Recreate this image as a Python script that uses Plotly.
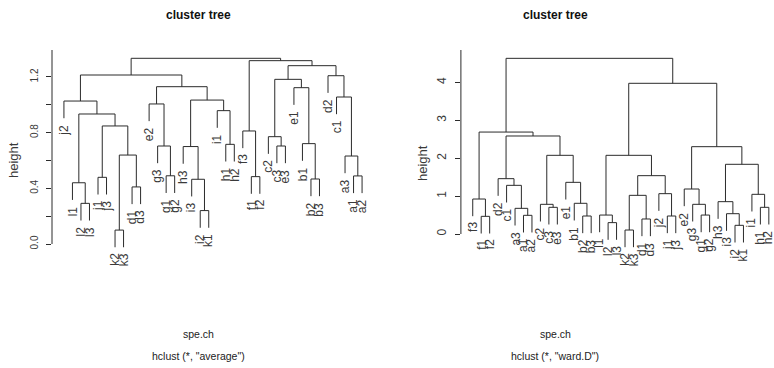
import plotly.graph_objects as go

W, H = 774, 368

# Leaf order and merge steps (R-style: a leaf label or the 1-based row of an earlier merge)
avg_order = ["j2", "l1", "l2", "l3", "j1", "j3", "k2", "k3", "d1", "d3",
             "e2", "g3", "g1", "g2", "h3", "i3", "i2", "k1", "i1", "h1", "h2",
             "f3", "f1", "f2", "c2", "c3", "e3", "e1", "b1", "b2", "b3",
             "d2", "c1", "a3", "a1", "a2"]
avg_merge = [("k2", "k3"), ("i2", "k1"), ("l2", "l3"), ("d1", "d3"), ("l1", 3),
             ("i3", 2), ("b2", "b3"), ("j1", "j3"), ("f1", "f2"), ("a1", "a2"),
             ("g1", "g2"), ("a3", 10), (1, 4), ("h3", 6), ("c3", "e3"),
             ("g3", 11), ("h1", "h2"), ("b1", 7), ("c2", 15), ("f3", 9),
             (8, 13), (5, 21), ("i1", 17), ("e2", 16), ("j2", 22),
             (14, 23), ("c1", 12), ("e1", 18), (24, 26), (19, 28),
             ("d2", 27), (25, 29), (30, 31), (20, 33), (32, 34)]
avg_height = [0.100, 0.240, 0.292, 0.410, 0.440, 0.465, 0.467, 0.479, 0.484, 0.489,
              0.490, 0.632, 0.639, 0.700, 0.704, 0.704, 0.716, 0.721, 0.771, 0.812,
              0.848, 0.934, 0.958, 1.006, 1.027, 1.034, 1.056, 1.123, 1.130, 1.183,
              1.209, 1.214, 1.281, 1.317, 1.334]

ward_order = ["f3", "f1", "f2", "d2", "c1", "a3", "a1", "a2", "c2", "c3", "e3",
              "e1", "b1", "b2", "b3", "l1", "l2", "l3", "k2", "k3", "d1", "d3",
              "j2", "j1", "j3", "e2", "g3", "g1", "g2", "h3", "i3", "i2", "k1",
              "i1", "h1", "h2"]
ward_merge = [("k2", "k3"), ("i2", "k1"), ("l2", "l3"), ("d1", "d3"), ("f1", "f2"),
              ("b2", "b3"), ("j1", "j3"), ("a1", "a2"), ("l1", 3), ("g1", "g2"),
              ("i3", 2), ("a3", 8), ("c3", "e3"), ("h1", "h2"), ("c2", 13),
              ("g3", 10), ("b1", 6), ("h3", 11), ("f3", 5), (1, 4),
              ("i1", 14), ("j2", 7), ("e2", 16), ("c1", 12), ("e1", 17),
              ("d2", 24), (20, 22), (18, 21), (9, 27), (15, 25),
              (23, 28), (26, 30), (19, 32), (29, 31), (33, 34)]
ward_height = [0.105, 0.229, 0.300, 0.396, 0.466, 0.475, 0.475, 0.493, 0.500, 0.500,
               0.536, 0.677, 0.704, 0.704, 0.783, 0.783, 0.810, 0.853, 0.923, 1.020,
               1.047, 1.064, 1.187, 1.284, 1.363, 1.460, 1.539, 1.839, 2.076, 2.076,
               2.304, 2.586, 2.690, 3.976, 4.635]

avg_ticks = [0.0, 0.2, 0.4, 0.6, 0.8, 1.0, 1.2]
avg_ticktext = ["0.0", "", "0.4", "", "0.8", "", "1.2"]
ward_ticks = [0, 1, 2, 3, 4]
ward_ticktext = ["0", "1", "2", "3", "4"]

title_text = "cluster tree"
xlab_text = "spe.ch"
avg_sub = 'hclust (*, "average")'
ward_sub = 'hclust (*, "ward.D")'
ylab_text = "height"

LINE = "#2b2b2b"
TEXT = "#3a3a3a"
FONT = "Liberation Sans, Arial, sans-serif"


def dendrogram(order, merge, height):
    """Elbow paths for every merge plus the end height of each hanging leaf."""
    pos = {lab: i for i, lab in enumerate(order)}
    hang = 0.1 * (max(height) - min(height))
    node_x, node_y = [], []
    xs, ys = [], []
    leaf_end = {}
    for (a, b), h in zip(merge, height):
        pts = []
        for c in (a, b):
            if isinstance(c, str):
                cx, cy = pos[c], h - hang
                leaf_end[c] = cy
            else:
                cx, cy = node_x[c - 1], node_y[c - 1]
            pts.append((cx, cy))
        (xa, ya), (xb, yb) = pts
        xs += [xa, xa, xb, xb, None]
        ys += [ya, h, h, yb, None]
        node_x.append((xa + xb) / 2)
        node_y.append(h)
    return xs, ys, leaf_end


def px_x(p):
    return p / W


def px_y(p):
    return 1 - p / H


panels = [
    dict(order=avg_order, merge=avg_merge, height=avg_height,
         xdom=[px_x(52), px_x(374)], xrange=[-1.4, 36.4],
         yrange=[-26 / 139.2, 194 / 139.2],
         ticks=avg_ticks, ticktext=avg_ticktext, tickfont=10,
         axis_px=52, ylab_px=(14, 160), title_cx=198, sub=avg_sub),
    dict(order=ward_order, merge=ward_merge, height=ward_height,
         xdom=[px_x(460.9), 1.0], xrange=[-1.4, 35.61],
         yrange=[-36 / 37.9, 184 / 37.9],
         ticks=ward_ticks, ticktext=ward_ticktext, tickfont=12,
         axis_px=460.9, ylab_px=(422, 163), title_cx=555, sub=ward_sub),
]

ydom = [px_y(270), px_y(50)]

fig = go.Figure()
annotations = []
shapes = []
layout_axes = {}

for k, p in enumerate(panels, start=1):
    xs, ys, leaf_end = dendrogram(p["order"], p["merge"], p["height"])
    xa = "x" if k == 1 else f"x{k}"
    ya = "y" if k == 1 else f"y{k}"
    fig.add_trace(go.Scatter(x=xs, y=ys, mode="lines", xaxis=xa, yaxis=ya,
                             line=dict(color=LINE, width=1), hoverinfo="skip",
                             showlegend=False))

    sfx = "" if k == 1 else str(k)
    layout_axes[f"xaxis{sfx}"] = dict(domain=p["xdom"], range=p["xrange"],
                                      visible=False, fixedrange=True)
    layout_axes[f"yaxis{sfx}"] = dict(
        domain=ydom, range=p["yrange"], anchor=xa, showgrid=False,
        zeroline=False, showline=False, ticks="outside", ticklen=5,
        tickwidth=1, tickcolor=LINE, tickvals=p["ticks"], ticktext=p["ticktext"],
        tickangle=-90, ticklabelstandoff=4,
        tickfont=dict(family=FONT, size=p["tickfont"], color=TEXT),
        fixedrange=True)

    # axis line from 0 up to the top of the panel
    shapes.append(dict(type="line", xref="paper", yref=ya,
                       x0=px_x(p["axis_px"]), x1=px_x(p["axis_px"]),
                       y0=0, y1=p["yrange"][1], line=dict(color=LINE, width=1)))

    # leaf labels hanging under each leaf
    for i, lab in enumerate(p["order"]):
        annotations.append(dict(x=i, y=leaf_end[lab],
                                xref=xa, yref=ya, text=lab, showarrow=False,
                                textangle=-90, xanchor="center", yanchor="top",
                                yshift=-5, borderpad=0,
                                font=dict(family=FONT, size=12, color=TEXT)))

    # axis title
    annotations.append(dict(x=px_x(p["ylab_px"][0]), y=px_y(p["ylab_px"][1]),
                            xref="paper", yref="paper", text=ylab_text,
                            showarrow=False, textangle=-90, xanchor="center",
                            yanchor="middle",
                            font=dict(family=FONT, size=13, color=TEXT)))
    # main title
    annotations.append(dict(x=px_x(p["title_cx"]), y=px_y(15), xref="paper",
                            yref="paper", text=f"<b>{title_text}</b>",
                            showarrow=False, xanchor="center", yanchor="middle",
                            font=dict(family=FONT, size=12, color="#111")))
    # sub labels
    annotations.append(dict(x=px_x(p["title_cx"]), y=px_y(334), xref="paper",
                            yref="paper", text=xlab_text, showarrow=False,
                            xanchor="center", yanchor="middle",
                            font=dict(family=FONT, size=10.5, color="#222")))
    annotations.append(dict(x=px_x(p["title_cx"]), y=px_y(356), xref="paper",
                            yref="paper", text=p["sub"], showarrow=False,
                            xanchor="center", yanchor="middle",
                            font=dict(family=FONT, size=10.5, color="#222")))

fig.update_layout(width=W, height=H, margin=dict(l=0, r=0, t=0, b=0),
                  paper_bgcolor="white", plot_bgcolor="white",
                  annotations=annotations, shapes=shapes, showlegend=False,
                  **layout_axes)

fig.write_html("out.html", config={"displayModeBar": False})
